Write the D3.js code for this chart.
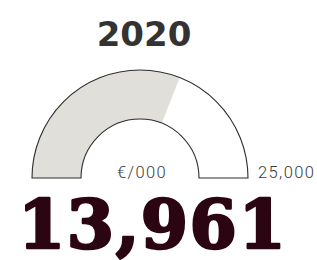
<!DOCTYPE html>
<html>
<head>
<meta charset="utf-8">
<script src="https://cdn.jsdelivr.net/npm/d3@7"></script>
<style>
  body { margin: 0; background: #fff; }
  .label { font-family: Roboto, sans-serif; font-weight: 300; fill: #3a3a3a; font-size: 16.5px; letter-spacing: 1.4px; }
</style>
</head>
<body>
<svg id="gauge" width="317" height="260"></svg>
<script>
(function(){
  var years = ['2020']
  var values = [13961]
  var gaugeRange = [0, 25000]
  var dialEdge = [15500]
  var unitLabel = '€/000'

  var svg = d3.select('#gauge'),
      width = +svg.attr("width"),
      height = +svg.attr("height");

  var cx = 140, cy = 178,
      outerR = 108, innerR = 59

  var angle = d3.scaleLinear()
    .domain(gaugeRange)
    .range([-Math.PI / 2, Math.PI / 2])

  var arc = d3.arc()
    .innerRadius(innerR)
    .outerRadius(outerR)

  var g = svg.append('g')
    .attr('transform', 'translate(' + cx + ',' + cy + ')')

  // shaded part
  g.append('path')
    .attr('d', arc({ startAngle: angle(gaugeRange[0]), endAngle: angle(dialEdge[0]) }))
    .attr('fill', '#e1dfd9')

  // outline of the whole dial
  g.append('path')
    .attr('d', arc({ startAngle: angle(gaugeRange[0]), endAngle: angle(gaugeRange[1]) }))
    .attr('fill', 'none')
    .attr('stroke', '#2e2e2e')
    .attr('stroke-width', 1.1)

  svg.append('text')
    .text(years[0])
    .attr('x', 144).attr('y', 46)
    .attr('text-anchor', 'middle')
    .style('font-family', '"DejaVu Sans", sans-serif')
    .style('font-weight', 'bold')
    .style('font-size', '34px')
    .style('fill', '#333')

  svg.append('text').attr('class', 'label')
    .text(unitLabel)
    .attr('x', 142).attr('y', 178)
    .attr('text-anchor', 'middle')

  svg.append('text').attr('class', 'label')
    .text(d3.format(',')(gaugeRange[1]))
    .attr('x', 258).attr('y', 178)

  svg.append('text')
    .text(d3.format(',')(values[0]))
    .attr('x', 18).attr('y', 248)
    .style('font-family', '"DejaVu Serif", serif')
    .style('font-weight', 'bold')
    .style('font-size', '68px')
    .style('letter-spacing', '1.5px')
    .style('fill', '#2b0612')
    .style('stroke', '#2b0612')
    .style('stroke-width', '2.6px')
    .style('stroke-linejoin', 'round')
})()
</script>
</body>
</html>
